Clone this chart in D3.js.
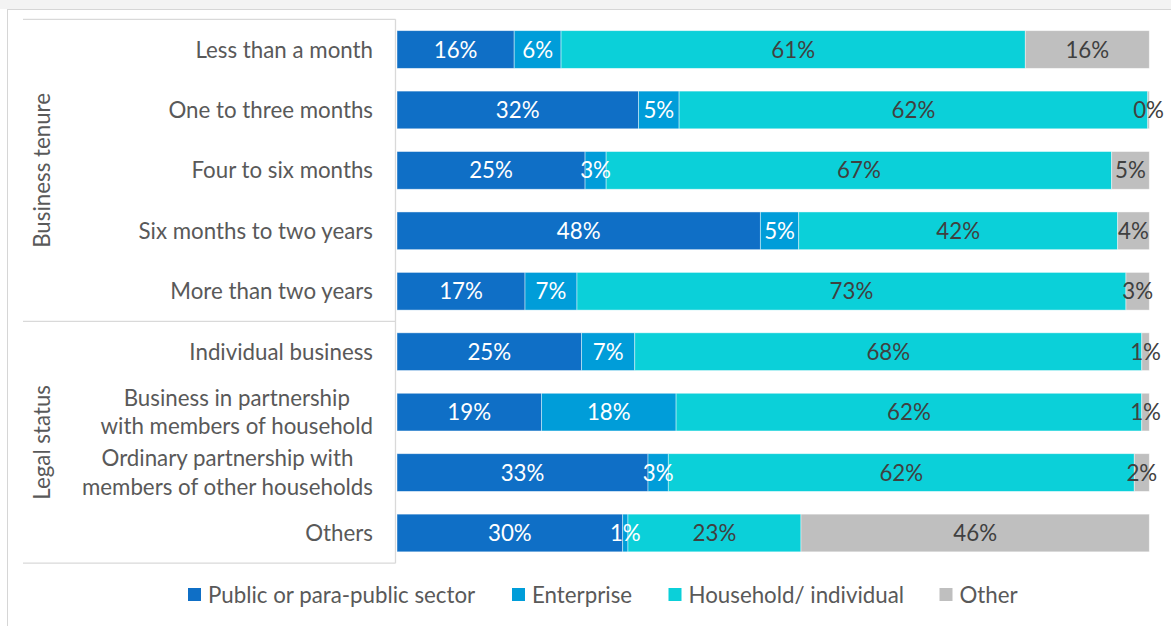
<!DOCTYPE html>
<html>
<head>
<meta charset="utf-8">
<script src="https://cdn.jsdelivr.net/npm/d3@7"></script>
<style>
  html, body { margin: 0; padding: 0; background: #ffffff; }
  svg { display: block; }
  text { font-family: Lato, "Open Sans", sans-serif; }
</style>
</head>
<body>
<svg id="chart" width="1171" height="626"></svg>
<script>
// Category labels (line breaks marked with \n) and their groups
const categories = [
  "Less than a month",
  "One to three months",
  "Four to six months",
  "Six months to two years",
  "More than two years",
  "Individual business",
  "Business in partnership\nwith members of household",
  "Ordinary partnership with\nmembers of other households",
  "Others"
];
const groupNames = ["Business tenure", "Legal status"];
const groupSizes = [5, 4];

// Series (percent of respondents per row)
const seriesNames = ["Public or para-public sector", "Enterprise", "Household/ individual", "Other"];
const publicSector = [15.5, 32.1, 25.0, 48.3, 17.0, 24.6, 19.2, 33.4, 30.0];
const enterprise   = [6.2, 5.4, 2.8, 5.1, 6.9, 7.1, 17.9, 2.7, 0.7];
const household    = [61.4, 62.3, 67.2, 42.4, 72.9, 67.6, 61.9, 62.0, 23.0];
const other        = [16.4, 0.2, 5.0, 4.2, 3.1, 1.0, 1.0, 2.0, 46.3];

const colors = ["#0f6fc6", "#009dd9", "#0bd0d9", "#bfbfbf"];
const labelColors = ["#ffffff", "#ffffff", "#404040", "#404040"];

const seriesValues = [publicSector, enterprise, household, other];
const rows = categories.map((c, i) => {
  const r = { category: c };
  seriesNames.forEach((s, k) => { r[s] = seriesValues[k][i]; });
  return r;
});

const svg = d3.select("#chart");
const W = 1171, H = 626;
const FONT = 22.3;

// Outer frame and top strip
svg.append("rect").attr("x", 0).attr("y", 0).attr("width", W).attr("height", 9)
  .attr("fill", "#f3f3f3");
svg.append("rect").attr("x", 7.5).attr("y", 9.5).attr("width", W + 10).attr("height", H + 10)
  .attr("fill", "#ffffff").attr("stroke", "#d6d6d6").attr("stroke-width", 1);

const x = d3.scaleLinear().domain([0, 1]).range([397, 1149.3]);
const y = d3.scaleBand().domain(categories).range([19.3, 563.2])
  .paddingInner(0.376).paddingOuter(0.188);

const stack = d3.stack().keys(seriesNames).offset(d3.stackOffsetExpand);
const layers = stack(rows);

// Bars
const gBars = svg.append("g");
layers.forEach((layer, k) => {
  gBars.selectAll(null)
    .data(layer)
    .join("rect")
    .attr("x", d => x(d[0]))
    .attr("y", d => y(d.data.category))
    .attr("width", d => Math.max(0, x(d[1]) - x(d[0])))
    .attr("height", y.bandwidth())
    .attr("fill", colors[k])
    .attr("stroke", "#ffffff")
    .attr("stroke-opacity", 0.55)
    .attr("stroke-width", 0.8);
});

// Data labels
const gLabels = svg.append("g");
layers.forEach((layer, k) => {
  gLabels.selectAll(null)
    .data(layer)
    .join("text")
    .attr("x", d => (x(d[0]) + x(d[1])) / 2)
    .attr("y", d => y(d.data.category) + y.bandwidth() / 2)
    .attr("dy", "0.36em")
    .attr("text-anchor", "middle")
    .attr("font-size", FONT)
    .attr("fill", labelColors[k])
    .text(d => Math.round(d.data[seriesNames[k]]) + "%");
});

// Category axis: multi-level box
const axisColor = "#d9d9d9";
const gAxis = svg.append("g").attr("stroke", axisColor).attr("stroke-width", 1.3);
const axisTop = y.range()[0], axisBottom = y.range()[1];
const boundaries = [0];
groupSizes.reduce((acc, n) => { boundaries.push(acc + n); return acc + n; }, 0);
boundaries.forEach(b => {
  const yy = axisTop + b * y.step();
  gAxis.append("line").attr("x1", 23).attr("x2", 395.5).attr("y1", yy).attr("y2", yy);
});
gAxis.append("line").attr("x1", 395.5).attr("x2", 395.5).attr("y1", axisTop).attr("y2", axisBottom);

// Category labels (right aligned block, lines centred)
const labelRight = 373;
const lineH = 28.2;
const gCat = svg.append("g");
categories.forEach(c => {
  const lines = c.split("\n");
  const cy = y(c) + y.bandwidth() / 2;
  const t = gCat.append("text")
    .attr("font-size", FONT)
    .attr("fill", "#595959")
    .attr("text-anchor", "middle");
  lines.forEach((ln, i) => {
    t.append("tspan").attr("x", 0)
      .attr("y", cy + (i - (lines.length - 1) / 2) * lineH)
      .attr("dy", "0.36em")
      .text(ln);
  });
  const w = t.node().getBBox().width;
  t.attr("transform", `translate(${labelRight - w / 2},0)`);
});

// Group labels (rotated)
let startIdx = 0;
groupNames.forEach((g, i) => {
  const y0 = axisTop + startIdx * y.step();
  const y1 = axisTop + (startIdx + groupSizes[i]) * y.step();
  svg.append("text")
    .attr("transform", `translate(42,${(y0 + y1) / 2}) rotate(-90)`)
    .attr("dy", "0.36em")
    .attr("text-anchor", "middle")
    .attr("font-size", FONT)
    .attr("fill", "#595959")
    .text(g);
  startIdx += groupSizes[i];
});

// Legend
const legendX = [188, 512, 668.5, 939.5];
const gLeg = svg.append("g");
seriesNames.forEach((s, k) => {
  gLeg.append("rect")
    .attr("x", legendX[k]).attr("y", 588)
    .attr("width", 13).attr("height", 13)
    .attr("fill", colors[k]);
  gLeg.append("text")
    .attr("x", legendX[k] + 20).attr("y", 594.5)
    .attr("dy", "0.36em")
    .attr("font-size", FONT)
    .attr("fill", "#595959")
    .text(s);
});
</script>
</body>
</html>
